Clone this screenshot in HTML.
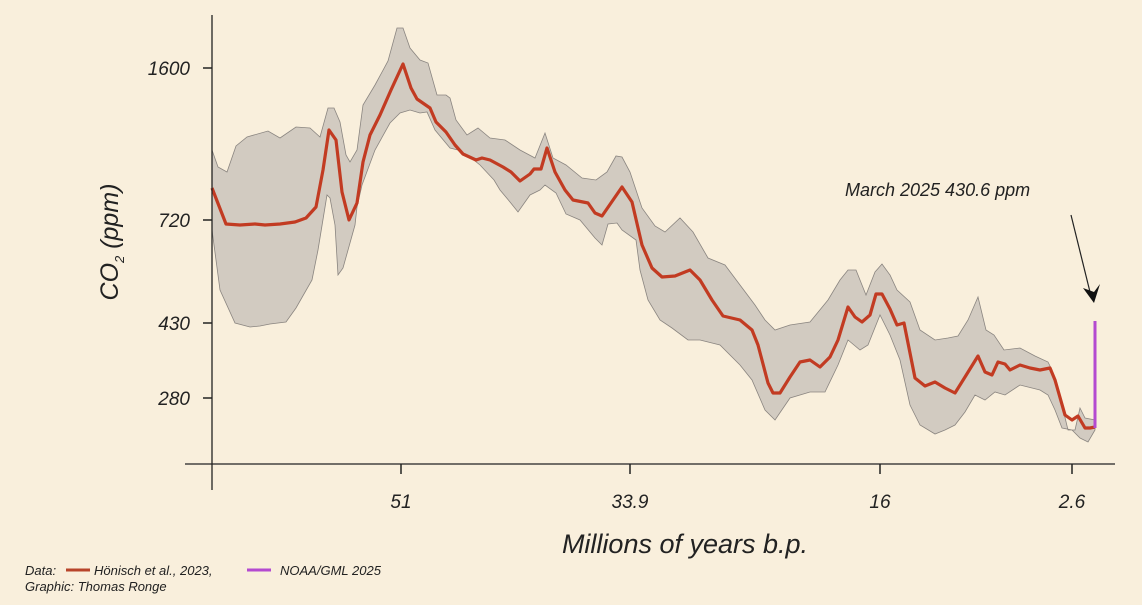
<!DOCTYPE html>
<html><head><meta charset="utf-8"><style>
html,body{margin:0;padding:0;background:#f9efdc;}
svg{display:block}
text{font-family:"Liberation Sans",sans-serif;font-style:italic;fill:#222}
</style></head><body>
<svg width="1142" height="605" viewBox="0 0 1142 605" xmlns="http://www.w3.org/2000/svg">
<rect width="1142" height="605" fill="#f9efdc"/>
<polygon fill="#d2cbc1" stroke="#8a8580" stroke-width="0.8" points="212,150 218,167 227,172 236,146 247,137 268,131 280,138 296,127 310,128 320,137 328,108 334,108 340,122 346,155 350,162 357,150 363,105 375,85 388,61 397,28 403,28 410,48 420,60 428,63 437,95 446,95 450,98 456,120 467,135 478,128 490,138 505,140 520,150 535,158 545,133 553,158 566,165 582,178 596,180 607,172 616,156 622,157 630,172 642,208 655,226 665,232 680,218 693,232 708,258 725,265 740,285 755,305 765,320 775,330 790,325 810,322 828,300 840,280 848,270 856,270 866,295 875,272 882,264 890,275 897,290 910,302 920,330 935,340 948,338 958,336 968,320 978,297 986,330 994,335 1004,350 1020,348 1035,356 1048,362 1052,370 1062,405 1068,430 1075,430 1080,408 1085,418 1095,420 1095,430 1088,442 1080,438 1072,430 1062,428 1055,410 1048,395 1040,390 1020,385 1005,395 995,392 985,400 975,395 965,412 955,425 945,430 935,434 920,425 910,405 900,360 890,335 880,315 868,345 860,350 848,340 838,365 825,392 810,392 790,398 775,420 765,410 752,380 740,365 720,345 700,340 688,340 672,328 660,320 648,300 640,270 636,240 622,230 617,223 608,224 602,245 595,238 580,220 566,214 556,193 545,185 540,190 530,195 518,212 510,202 500,190 494,180 480,165 470,157 458,150 450,148 435,130 427,112 420,113 410,110 400,113 390,123 375,150 362,185 357,207 355,225 343,268 338,275 335,225 330,198 327,195 318,250 312,280 296,308 286,322 270,324 260,326 250,327 235,323 220,290 212,230"/>
<polyline fill="none" stroke="#c23b22" stroke-width="3.2" stroke-linejoin="round" points="212,188 226,224 240,225 255,224 265,225 280,224 295,222 306,218 316,207 323,170 329,130 336,140 342,192 349,220 357,203 363,162 370,135 380,115 391,90 403,64 411,88 417,99 430,108 436,122 446,132 455,145 463,154 476,160 482,158 490,160 503,167 511,172 520,181 530,174 534,169 541,169 547,148 555,172 565,190 573,200 588,203 595,213 602,216 622,187 632,202 642,245 652,268 662,277 675,276 690,270 700,280 712,300 723,316 740,320 752,330 758,345 768,383 773,393 780,393 790,377 800,362 810,360 820,367 830,357 838,340 848,307 855,317 862,322 870,315 876,294 882,294 890,309 897,325 904,323 915,378 925,386 935,382 945,388 955,393 965,377 978,356 985,372 992,375 998,362 1005,364 1010,370 1020,365 1030,368 1040,370 1050,368 1055,380 1065,415 1072,420 1078,416 1085,428 1090,428 1095,427"/>
<line x1="1095" y1="428" x2="1095" y2="321" stroke="#b44ad0" stroke-width="3"/>
<line x1="212" y1="15" x2="212" y2="490" stroke="#222" stroke-width="1.3"/>
<line x1="185" y1="464" x2="1115" y2="464" stroke="#222" stroke-width="1.3"/>
<g stroke="#222" stroke-width="1.5">
<line x1="203" y1="68" x2="212" y2="68"/><line x1="203" y1="220" x2="212" y2="220"/>
<line x1="203" y1="323" x2="212" y2="323"/><line x1="203" y1="398" x2="212" y2="398"/>
<line x1="401" y1="464" x2="401" y2="474"/><line x1="630" y1="464" x2="630" y2="474"/>
<line x1="880" y1="464" x2="880" y2="474"/><line x1="1072" y1="464" x2="1072" y2="474"/>
</g>
<g font-size="19" text-anchor="end">
<text x="190" y="75">1600</text><text x="190" y="227">720</text>
<text x="190" y="330">430</text><text x="190" y="405">280</text>
</g>
<g font-size="19" text-anchor="middle">
<text x="401" y="508">51</text><text x="630" y="508">33.9</text>
<text x="880" y="508">16</text><text x="1072" y="508">2.6</text>
</g>
<text x="685" y="553" font-size="27" text-anchor="middle">Millions of years b.p.</text>
<text transform="translate(118,242) rotate(-90)" font-size="25" text-anchor="middle">CO<tspan font-size="13" dy="6">2</tspan><tspan dy="-6"> (ppm)</tspan></text>
<text x="845" y="196" font-size="18">March 2025 430.6 ppm</text>
<line x1="1071" y1="215" x2="1090" y2="292" stroke="#222" stroke-width="1.2"/>
<polygon points="1094,303 1083,288 1094,292 1100,284" fill="#111"/>
<g font-size="13">
<text x="25" y="575">Data:</text>
<line x1="66" y1="570" x2="90" y2="570" stroke="#b8442a" stroke-width="3"/>
<text x="94" y="575">Hönisch et al., 2023,</text>
<line x1="247" y1="570" x2="271" y2="570" stroke="#b44ad0" stroke-width="3"/>
<text x="280" y="575">NOAA/GML 2025</text>
<text x="25" y="591">Graphic: Thomas Ronge</text>
</g>
</svg>
</body></html>
